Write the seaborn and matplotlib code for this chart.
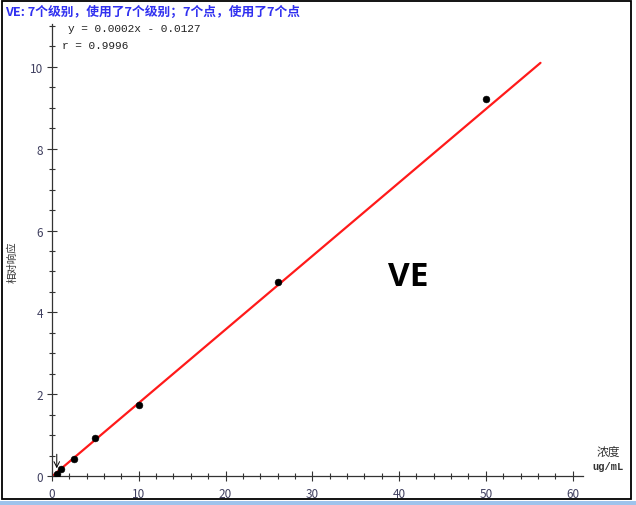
import numpy as np
import matplotlib
matplotlib.use("Agg")
import matplotlib.pyplot as plt
from matplotlib.ticker import MultipleLocator
from matplotlib.patches import Rectangle
import seaborn as sns
import pandas as pd

# calibration points
conc = [0.6, 1.0, 2.5, 5.0, 10.0, 26.0, 50.0]
resp = [0.05, 0.16, 0.42, 0.93, 1.74, 4.74, 9.22]
# fitted line end points
fit_x = [0.0, 56.3]
fit_y = [-0.01, 10.1]

x_ticks = [0, 10, 20, 30, 40, 50, 60]
y_ticks = [0, 2, 4, 6, 8, 10]

title = "VE: 7个级别，使用了7个级别；7个点，使用了7个点"
eq_text = "y = 0.0002x - 0.0127"
r_text = "r = 0.9996"

sns.set_style("ticks")
plt.rcParams['font.family'] = ['Noto Sans CJK SC', 'DejaVu Sans']

fig = plt.figure(figsize=(6.36, 5.06), dpi=100)
ax = fig.add_axes([52 / 636, 1 - 477 / 506, (583 - 52) / 636, (477 - 25) / 506])

df = pd.DataFrame({"x": conc, "y": resp})
line_df = pd.DataFrame({"x": fit_x, "y": fit_y})
sns.lineplot(data=line_df, x="x", y="y", color="#ff1a1a", linewidth=1.6, ax=ax, zorder=2)
sns.scatterplot(data=df, x="x", y="y", color="black", s=24, edgecolor="black", ax=ax, zorder=3)

# small marker arrow near the origin
ax.annotate("", xy=(0.55, 0.12), xytext=(0.55, 0.6),
            arrowprops=dict(arrowstyle="->", color="black", lw=0.7))

ax.set_xlim(0, 61.2)
ax.set_ylim(0, 11.05)
ax.set_xticks(x_ticks)
ax.set_yticks(y_ticks)
ax.xaxis.set_minor_locator(MultipleLocator(2))
ax.yaxis.set_minor_locator(MultipleLocator(0.5))
ax.tick_params(which="major", direction="inout", length=7, width=0.8, color="#333333",
               labelsize=8.5, labelcolor="#404060", pad=3)
ax.tick_params(axis="x", which="major", pad=4.2)
ax.tick_params(which="minor", direction="inout", length=4, width=0.8, color="#333333")
ax.set_xlabel("")
ax.set_ylabel("")
for side in ["top", "right"]:
    ax.spines[side].set_visible(False)
for side in ["left", "bottom"]:
    ax.spines[side].set_linewidth(0.9)
    ax.spines[side].set_color("#333333")

ax.text(41.1, 4.87, "VE", fontsize=24, fontweight="bold", family=["Open Sans", "DejaVu Sans"],
        ha="center", va="center", color="black")

fig.text(5 / 636, 1 - 12 / 506, title, fontsize=9.2, color="#3030f0", fontweight="bold",
         ha="left", va="center")
fig.text(68 / 636, 1 - 29 / 506, eq_text, fontsize=8, family="Liberation Mono",
         ha="left", va="center", color="#222222")
fig.text(62 / 636, 1 - 46 / 506, r_text, fontsize=8, family="Liberation Mono",
         ha="left", va="center", color="#222222")
fig.text(12 / 636, 1 - 262 / 506, "相对响应", fontsize=7.5, rotation=90,
         ha="center", va="center", color="#333333")
fig.text(608 / 636, 1 - 452 / 506, "浓度", fontsize=8.5, ha="center", va="center",
         color="#333333")
fig.text(608 / 636, 1 - 467 / 506, "ug/mL", fontsize=7.5, family="Liberation Mono",
         fontweight="bold", ha="center", va="center", color="#333333")

# outer frame and bottom strip
fig.patches.append(Rectangle((2 / 636, 1 - 500 / 506), 629 / 636, 498 / 506,
                             transform=fig.transFigure, fill=False,
                             edgecolor="black", linewidth=1.3))
fig.patches.append(Rectangle((0, 0), 1, 4 / 506, transform=fig.transFigure,
                             facecolor="#9ec3ec", edgecolor="none"))

fig.savefig("out.png", dpi=100)
